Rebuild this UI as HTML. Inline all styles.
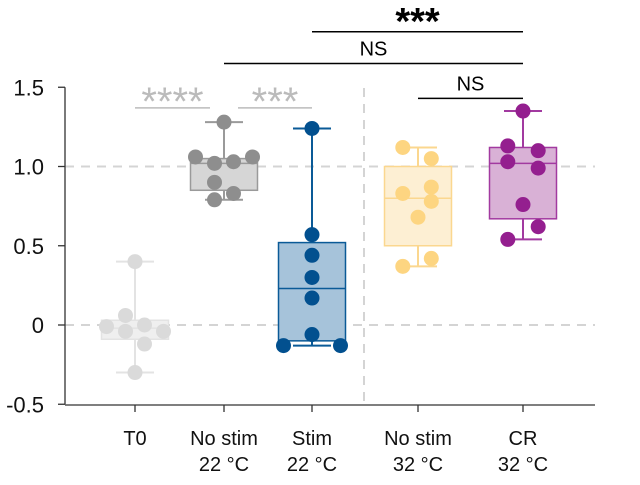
<!DOCTYPE html>
<html><head><meta charset="utf-8"><style>
body{margin:0;background:#fff}
svg{display:block;font-family:"Liberation Sans",sans-serif}
</style></head><body>
<svg id="c" width="640" height="485"></svg>
<script>
const categories=["T0","No stim\n22 °C","Stim\n22 °C","No stim\n32 °C","CR\n32 °C"];
const yTicks=[1.5,1.0,0.5,0,-0.5];
const yTickLabels=["1.5","1.0","0.5","0","-0.5"];
const boxQ1=[-0.09,0.85,-0.10,0.50,0.67];
const boxMedian=[-0.02,1.02,0.23,0.80,1.02];
const boxQ3=[0.03,1.05,0.52,1.00,1.12];
const whiskerLow=[-0.30,0.79,-0.13,0.37,0.54];
const whiskerHigh=[0.40,1.28,1.24,1.12,1.35];
const pointValues=[
 [0.40,-0.01,0.06,-0.04,0.00,-0.12,-0.04,-0.30],
 [1.06,1.02,1.03,1.06,1.28,0.90,0.83,0.79],
 [1.24,0.57,0.44,0.30,0.17,-0.06,-0.13,-0.13],
 [1.12,1.05,0.83,0.87,0.68,0.78,0.37,0.42],
 [1.35,1.13,1.10,1.03,0.99,0.76,0.62,0.54]];
const pointOffsets=[
 [0,-1.5,-0.5,-0.5,0.5,0.5,1.5,0],
 [-1.5,-0.5,0.5,1.5,0,-0.5,0.5,-0.5],
 [0,0,0,0,0,0,-1.5,1.5],
 [-0.8,0.7,-0.8,0.7,0,0.7,-0.8,0.7],
 [0,-0.8,0.8,-0.8,0.8,0,0.8,-0.8]];
const fills=["#efefef","#d6d6d6","#a6c3da","#fdefd3","#d9b1d6"];
const strokes=["#e3e3e3","#9a9a9a","#0a5a97","#fbd78f","#a23aa0"];
const dots=["#dadada","#8e8e8e","#02508f","#fdd581","#941f8f"];
const sigs=[{a:0,b:1,t:"****",yv:1.37,c:"#bbb",big:false,ia:0,ib:14},{a:1,b:2,t:"***",yv:1.37,c:"#bbb",big:false,ia:14,ib:0},
 {a:3,b:4,t:"NS",yv:1.43,c:"#000",big:false,ia:0,ib:0},{a:1,b:4,t:"NS",yv:1.65,c:"#000",big:false,ia:0,ib:0},{a:2,b:4,t:"***",yv:1.85,c:"#000",big:true,ia:0,ib:0}];
const NS="http://www.w3.org/2000/svg";
const svg=document.getElementById('c');
const catX=[135,224,312,418,523];
const xs=i=>catX[i];
const ys=v=>325-158.5*v;
function el(t,a,p){const e=document.createElementNS(NS,t);for(const k in a)e.setAttribute(k,a[k]);(p||svg).appendChild(e);return e;}
[1,0].forEach(v=>{const g=el('line',{x1:65,x2:595,y1:ys(v),y2:ys(v),stroke:'#d4d4d4','stroke-width':2,'stroke-dasharray':'9,7'});

});
const vd=el('line',{x1:364,x2:364,y1:88,y2:405,stroke:'#d4d4d4','stroke-width':2,'stroke-dasharray':'9,7'});


const ya=el('line',{x1:65,x2:65,y1:ys(1.5),y2:ys(-0.5),stroke:'#333','stroke-width':1.3});


const xa=el('line',{x1:65,x2:595,y1:405,y2:405,stroke:'#333','stroke-width':1.3});


yTicks.forEach((v,i)=>{el('line',{x1:58,x2:65,y1:ys(v),y2:ys(v),stroke:'#333','stroke-width':1.3});
const t=el('text',{x:44,y:ys(v)+8,'text-anchor':'end','font-size':22,fill:'#111'});t.textContent=yTickLabels[i];

});
categories.forEach((c,i)=>{el('line',{x1:xs(i),x2:xs(i),y1:405,y2:412,stroke:'#333','stroke-width':1.3});
const t=el('text',{x:xs(i),y:445,'text-anchor':'middle','font-size':20,fill:'#111'});


c.split('\n').forEach((s,j)=>{const ts=el('tspan',{x:xs(i),dy:j?26:0},t);ts.textContent=s;});});
for(let i=0;i<5;i++){const x=xs(i),w=67;
const g=el('g',{});


el('line',{x1:x,x2:x,y1:ys(whiskerHigh[i]),y2:ys(whiskerLow[i]),stroke:strokes[i],'stroke-width':2},g);
[whiskerHigh[i],whiskerLow[i]].forEach(v=>el('line',{x1:x-19,x2:x+19,y1:ys(v),y2:ys(v),stroke:strokes[i],'stroke-width':2},g));
el('rect',{x:x-w/2,y:ys(boxQ3[i]),width:w,height:ys(boxQ1[i])-ys(boxQ3[i]),fill:fills[i],stroke:strokes[i],'stroke-width':1.5},g);
el('line',{x1:x-w/2,x2:x+w/2,y1:ys(boxMedian[i]),y2:ys(boxMedian[i]),stroke:strokes[i],'stroke-width':1.5},g);
pointValues[i].forEach((v,j)=>{const p=el('circle',{cx:x+pointOffsets[i][j]*19,cy:ys(v),r:7.5,fill:dots[i]},g);

});}
sigs.forEach(s=>{const y=ys(s.yv);
const l=el('line',{x1:xs(s.a)+s.ia,x2:xs(s.b)-s.ib,y1:y,y2:y,stroke:s.c,'stroke-width':1.5});


const ast=s.t.includes('*');
const t=el('text',{x:(xs(s.a)+s.ia+xs(s.b)-s.ib)/2,y:ast?(s.big?y+2:y+7):y-8,'text-anchor':'middle','font-size':ast?(s.big?38:40):20,fill:s.c,'font-weight':s.big?'bold':'normal'});
t.textContent=s.t;

});
</script>
</body></html>
